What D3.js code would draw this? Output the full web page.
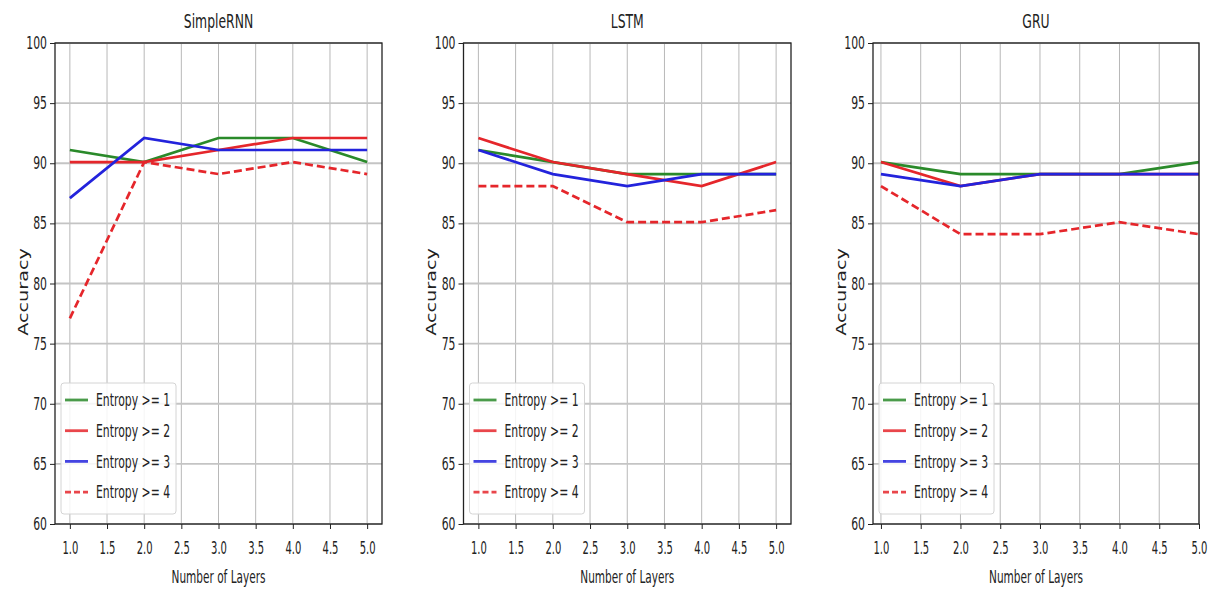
<!DOCTYPE html>
<html>
<head>
<meta charset="utf-8">
<script src="https://cdn.jsdelivr.net/npm/d3@7"></script>
<style>
  body { margin: 0; background: #fff; }
  text { font-family: "DejaVu Sans", sans-serif; fill: #222; }
</style>
</head>
<body>
<svg id="chart" width="1214" height="590"></svg>
<script>
// layers on the x axis
const layers = [1, 2, 3, 4, 5];
const xTicks = [1.0, 1.5, 2.0, 2.5, 3.0, 3.5, 4.0, 4.5, 5.0];
const yTicks = [60, 65, 70, 75, 80, 85, 90, 95, 100];
const models = ["SimpleRNN", "LSTM", "GRU"];
const seriesNames = ["Entropy >= 1", "Entropy >= 2", "Entropy >= 3", "Entropy >= 4"];

// accuracy
const rnn_e1 = [91.1, 90.1, 92.1, 92.1, 90.1];
const rnn_e2 = [90.1, 90.1, 91.1, 92.1, 92.1];
const rnn_e3 = [87.1, 92.1, 91.1, 91.1, 91.1];
const rnn_e4 = [77.1, 90.1, 89.1, 90.1, 89.1];

const lstm_e1 = [91.1, 90.1, 89.1, 89.1, 89.1];
const lstm_e2 = [92.1, 90.1, 89.1, 88.1, 90.1];
const lstm_e3 = [91.1, 89.1, 88.1, 89.1, 89.1];
const lstm_e4 = [88.1, 88.1, 85.1, 85.1, 86.1];

const gru_e1 = [90.1, 89.1, 89.1, 89.1, 90.1];
const gru_e2 = [90.1, 88.1, 89.1, 89.1, 89.1];
const gru_e3 = [89.1, 88.1, 89.1, 89.1, 89.1];
const gru_e4 = [88.1, 84.1, 84.1, 85.1, 84.1];

const modelData = [
    [rnn_e1, rnn_e2, rnn_e3, rnn_e4],
    [lstm_e1, lstm_e2, lstm_e3, lstm_e4],
    [gru_e1, gru_e2, gru_e3, gru_e4]
];

const colors = ["#2a8a2a", "#e5262b", "#2323dc", "#e5262b"];
const dashes = [null, null, null, "8,4"];

// panel boxes (the picture is squashed sideways, so text gets squeezed too)
const panels = [
    {left: 55, right: 382, domain: [0.8, 5.2]},
    {left: 463.5, right: 791, domain: [0.8, 5.2]},
    {left: 873, right: 1199, domain: [0.9, 5.0]}
];
const plotTop = 43, plotBottom = 524;
const sx = 0.62;

const svg = d3.select("#chart");

// move x/y into a transform so the text can be squeezed horizontally
function squeeze(sel, s) {
    sel.each(function () {
        const t = d3.select(this);
        const x = +t.attr("x") || 0;
        const y = +t.attr("y") || 0;
        t.attr("x", 0).attr("y", 0)
         .attr("transform", `translate(${x},${y}) scale(${s},1)`);
    });
}

models.forEach((name, i) => {
    const p = panels[i];
    const g = svg.append("g");

    let xScale = d3.scaleLinear().domain(p.domain).range([p.left, p.right]);
    let yScale = d3.scaleLinear().domain([60, 100]).range([plotBottom, plotTop]);

    // grid
    g.append("g").selectAll("line")
        .data(xTicks)
        .enter().append("line")
        .attr("x1", d => xScale(d)).attr("x2", d => xScale(d))
        .attr("y1", plotTop).attr("y2", plotBottom)
        .attr("stroke", "#b8b8b8").attr("stroke-width", 1);
    g.append("g").selectAll("line")
        .data(yTicks)
        .enter().append("line")
        .attr("x1", p.left).attr("x2", p.right)
        .attr("y1", d => yScale(d)).attr("y2", d => yScale(d))
        .attr("stroke", "#c4c4c4").attr("stroke-width", 1.8);

    // lines
    const line = d3.line()
        .x((d, k) => xScale(layers[k]))
        .y(d => yScale(d));

    modelData[i].forEach((vals, s) => {
        g.append("path")
            .datum(vals)
            .attr("d", line)
            .attr("fill", "none")
            .attr("stroke", colors[s])
            .attr("stroke-width", 2.7)
            .attr("stroke-dasharray", dashes[s]);
    });

    // frame
    g.append("rect")
        .attr("x", p.left).attr("y", plotTop)
        .attr("width", p.right - p.left).attr("height", plotBottom - plotTop)
        .attr("fill", "none").attr("stroke", "#222").attr("stroke-width", 1.3);

    // axes
    const xAxis = g.append("g")
        .attr("transform", `translate(0,${plotBottom})`)
        .call(d3.axisBottom(xScale).tickValues(xTicks).tickFormat(d3.format(".1f")).tickSize(5).tickSizeOuter(0));
    xAxis.select(".domain").remove();
    xAxis.selectAll("text").attr("y", 30).attr("dy", null).attr("font-size", 17.5);
    squeeze(xAxis.selectAll("text"), sx * 0.92);

    const yAxis = g.append("g")
        .attr("transform", `translate(${p.left},0)`)
        .call(d3.axisLeft(yScale).tickValues(yTicks).tickSize(5).tickPadding(3).tickSizeOuter(0));
    yAxis.select(".domain").remove();
    yAxis.selectAll("text").attr("font-size", 17.5);
    squeeze(yAxis.selectAll("text"), sx);
    g.selectAll(".tick line").attr("stroke", "#222");
    g.selectAll(".tick text").attr("fill", "#222");

    // title and labels
    const title = g.append("text")
        .attr("x", (p.left + p.right) / 2).attr("y", 28)
        .attr("text-anchor", "middle").attr("font-size", 20)
        .text(name);
    squeeze(title, sx);

    const xl = g.append("text")
        .attr("x", (p.left + p.right) / 2).attr("y", 583)
        .attr("text-anchor", "middle").attr("font-size", 17)
        .text("Number of Layers");
    squeeze(xl, sx);

    g.append("text")
        .attr("transform", `translate(${p.left - 32},292) rotate(-90) scale(1.2,0.85)`)
        .attr("text-anchor", "middle").attr("dy", "0.35em")
        .attr("font-size", 16)
        .text("Accuracy");

    // legend
    const lx = p.left + 6, ly = 383;
    const leg = g.append("g");
    leg.append("rect")
        .attr("x", lx).attr("y", ly)
        .attr("width", 115).attr("height", 131)
        .attr("rx", 3)
        .attr("fill", "rgba(255,255,255,0.85)")
        .attr("stroke", "#d4d4d4");
    seriesNames.forEach((s, k) => {
        const yy = ly + 17 + k * 30.7;
        leg.append("line")
            .attr("x1", lx + 4).attr("x2", lx + 27)
            .attr("y1", yy).attr("y2", yy)
            .attr("stroke", colors[k]).attr("stroke-width", 2.8)
            .attr("stroke-opacity", 0.85)
            .attr("stroke-dasharray", k === 3 ? "6,3" : null);
        const t = leg.append("text")
            .attr("x", lx + 35).attr("y", yy)
            .attr("dy", "0.36em").attr("font-size", 17.5)
            .text(s);
        squeeze(t, sx);
    });
});
</script>
</body>
</html>
